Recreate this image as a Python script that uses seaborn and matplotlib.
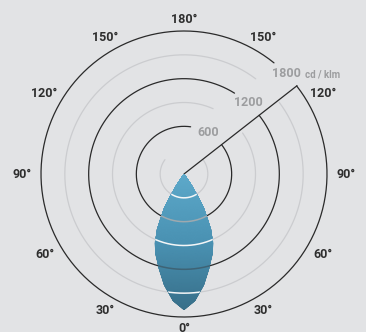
import numpy as np
import matplotlib
matplotlib.use("Agg")
import matplotlib.pyplot as plt
from matplotlib.colors import LinearSegmentedColormap, Normalize
import seaborn as sns

# light distribution (symmetric), angle from nadir in degrees -> cd/klm
angles = [0, 5, 10, 15, 20, 23, 26, 28, 30, 32, 34, 35, 40, 60, 90, 120, 150, 180]
intensity = [1712, 1600, 1420, 1235, 1050, 950, 775, 650, 500, 360, 150, 0, 0, 0, 0, 0, 0, 0]

ring_values = [300, 600, 900, 1200, 1500, 1800]
ring_labels = ["", "600", "", "1200", "", "1800"]
angle_ticks = [0, 30, 60, 90, 120, 150, 180]
unit_label = "cd / klm"

sns.set_theme(style="white")
plt.rcParams["font.family"] = ["Roboto", "DejaVu Sans"]

bg = "#e2e3e5"
fig = plt.figure(figsize=(3.66, 3.32), dpi=100, facecolor=bg)
R = 2000.0
rpx = 143.0 * R / 1800.0
ax = fig.add_axes([(184 - rpx) / 366, (158 - rpx) / 332, 2 * rpx / 366, 2 * rpx / 332],
                  projection="polar")
ax.set_theta_zero_location("S")
ax.set_theta_direction(1)
ax.set_ylim(0, R)
ax.set_facecolor("none")
ax.grid(False)
ax.set_xticks([])
ax.set_yticks([])
ax.spines["polar"].set_visible(False)

# rings: (start, end) in degrees, drawn clockwise from the cut line
ring_spans = {300: (127, -127), 600: (128, -188), 900: (125, -204),
              1200: (128, -212), 1500: (127, -217), 1800: (128, -219)}
for v in ring_values:
    a0, a1 = ring_spans[v]
    th = np.radians(np.linspace(a0, a1, 400))
    major = v % 600 == 0
    ax.plot(th, np.full_like(th, v), color="#2a2a2a" if major else "#cbcccf",
            lw=0.9, zorder=1)

# cut line
ax.plot([np.radians(128), np.radians(128)], [0, 1805], color="#2a2a2a", lw=0.9, zorder=1)

# lobe
ang = np.array(angles, dtype=float)
val = np.array(intensity, dtype=float)
theta = np.radians(np.concatenate([-ang[::-1], ang[1:]]))
rr = np.concatenate([val[::-1], val[1:]])
poly = ax.fill(theta, rr, color="#4a90b0", lw=0, zorder=2)[0]

cmap = LinearSegmentedColormap.from_list("lobe", ["#5eaacb", "#4a92b3", "#376f89"])
tg, rg = np.meshgrid(np.radians(np.linspace(-60, 60, 121)), np.linspace(0, 1800, 181))
depth = rg * np.cos(tg)
mesh = ax.pcolormesh(tg, rg, depth, cmap=cmap, norm=Normalize(0, 1712),
                     shading="gouraud", zorder=3)
mesh.set_clip_path(poly)

# rings seen over the lobe
over_colors = {300: "#f4f6f7", 600: "#9ea9af", 900: "#f4f6f7",
               1200: "#3e6375", 1500: "#f4f6f7"}
for v, c in over_colors.items():
    th = np.radians(np.linspace(-45, 45, 200))
    ln, = ax.plot(th, np.full_like(th, v), color=c, lw=1.1, zorder=4)
    ln.set_clip_path(poly)

# ring labels
label_pos = {600: 149.7, 1200: 137.7, 1800: 134.6}
for v, t in zip(ring_values, ring_labels):
    if t:
        ax.text(np.radians(label_pos[v]), v + 10, t, ha="center", va="center",
                fontsize=9, fontweight="bold", color="#9c9d9f", zorder=5)
ax.text(np.radians(125.8), 2150, unit_label, ha="center", va="center",
        fontsize=7, fontweight="bold", color="#9c9d9f", zorder=5, clip_on=False)

# angle labels
for a in angle_ticks:
    sides = [a] if a in (0, 180) else [a, -a]
    for s in sides:
        r = 1940 + 100 * abs(np.sin(np.radians(s)))
        ax.text(np.radians(s), r, f"{a}°", ha="center", va="center",
                fontsize=9, fontweight="bold", color="#2e2e2e", clip_on=False)

fig.savefig("out.png", dpi=100, facecolor=bg)
